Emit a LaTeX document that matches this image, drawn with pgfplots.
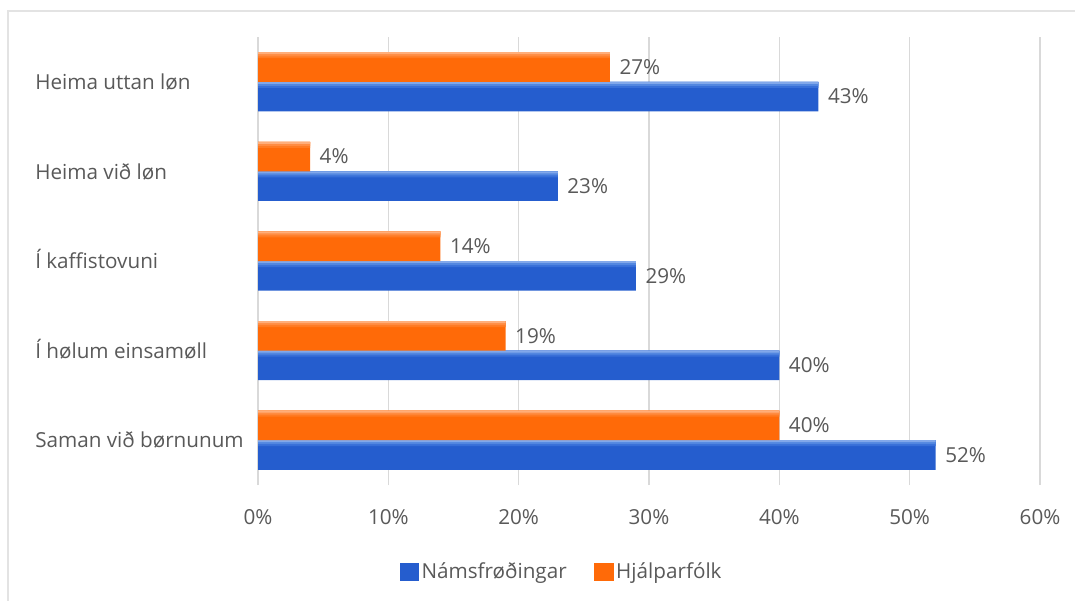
\documentclass[border=0pt]{standalone}
\usepackage{pgfplots}
\pgfplotsset{compat=1.18}
\usepackage{fontspec}
\setmainfont{Open Sans}
\definecolor{txt}{HTML}{595959}
\definecolor{gridc}{HTML}{D9D9D9}
\definecolor{bordc}{HTML}{E3E3E3}
\definecolor{bM}{HTML}{255DCE}
\definecolor{bA}{HTML}{386FD8}
\definecolor{bB}{HTML}{5387E0}
\definecolor{bC}{HTML}{82A8EA}
\definecolor{oM}{HTML}{FF6A08}
\definecolor{oA}{HTML}{FF7A22}
\definecolor{oB}{HTML}{FF8C42}
\definecolor{oC}{HTML}{FFAE7A}
\newcommand{\lbl}{\fontsize{15.5pt}{18pt}\selectfont}
\pgfplotstableread{
y nams hjal
0 52 40
1 40 19
2 29 14
3 23 4
4 43 27
}\datatab
\begin{document}
\begin{tikzpicture}[x=0.75pt,y=0.75pt]
\path[use as bounding box] (0,0) rectangle (1075,601);
\draw[line width=1.1pt, color=bordc] (1075,590) -- (8,590) -- (8,0);
\begin{axis}[
  at={(193.5pt,87pt)}, anchor=south west,
  scale only axis, width=586.5pt, height=336pt,
  xmin=0, xmax=60, ymin=-0.5, ymax=4.5,
  xtick={0,10,...,60}, ytick={0,1,2,3,4},
  yticklabels={Saman við børnunum, Í hølum einsamøll, Í kaffistovuni, Heima við løn, Heima uttan løn},
  xticklabel={\pgfmathprintnumber[assume math mode=true]{\tick}\%},
  xmajorgrids, major grid style={gridc, line width=0.8pt},
  axis line style={draw=none}, tick style={draw=none},
  yticklabel style={anchor=base west, inner sep=0pt, xshift=-167.25pt, yshift=-0.36em-2.2pt, font=\lbl, text=txt},
  xticklabel style={anchor=north, inner sep=0pt, yshift=-18pt, font=\lbl, text=txt},
  legend style={at={(0.3887,-0.1942)}, anchor=center, draw=none, fill=none, font=\lbl, text=txt,
    legend columns=2, /tikz/every even column/.append style={column sep=18.75pt}},
  bars/.style={xbar, draw=none, forget plot},
  lab/.style={point meta=x, nodes near coords={\pgfmathprintnumber[assume math mode=true]{\pgfplotspointmeta}\%},
    nodes near coords align={horizontal},
    every node near coord/.append style={font=\lbl, text=txt, anchor=west, inner sep=0pt, xshift=7pt, yshift=#1}},
]
% Námsfrøðingar (blue, lower bar)
\addplot[bars, bar width=0.33, bar shift=-0.165, fill=bM, lab=-11.1pt] table[x=nams, y=y] {\datatab};
\addplot[bars, bar width=0.067, bar shift=-0.0335, fill=bA] table[x=nams, y=y] {\datatab};
\addplot[bars, bar width=0.045, bar shift=-0.0225, fill=bB] table[x=nams, y=y] {\datatab};
\addplot[bars, bar width=0.022, bar shift=-0.011, fill=bC] table[x=nams, y=y] {\datatab};
% Hjálparfólk (orange, upper bar)
\addplot[bars, bar width=0.33, bar shift=0.165, fill=oM, lab=11.1pt] table[x=hjal, y=y] {\datatab};
\addplot[bars, bar width=0.067, bar shift=0.2965, fill=oA] table[x=hjal, y=y] {\datatab};
\addplot[bars, bar width=0.045, bar shift=0.3075, fill=oB] table[x=hjal, y=y] {\datatab};
\addplot[bars, bar width=0.022, bar shift=0.319, fill=oC] table[x=hjal, y=y] {\datatab};
\addlegendimage{legend image code/.code={\fill[bM] (0pt,-6.5pt) rectangle (14pt,6.5pt);}}
\addlegendentry{Námsfrøðingar}
\addlegendimage{legend image code/.code={\fill[oM] (0pt,-6.5pt) rectangle (14pt,6.5pt);}}
\addlegendentry{Hjálparfólk}
\end{axis}
\end{tikzpicture}
\end{document}
